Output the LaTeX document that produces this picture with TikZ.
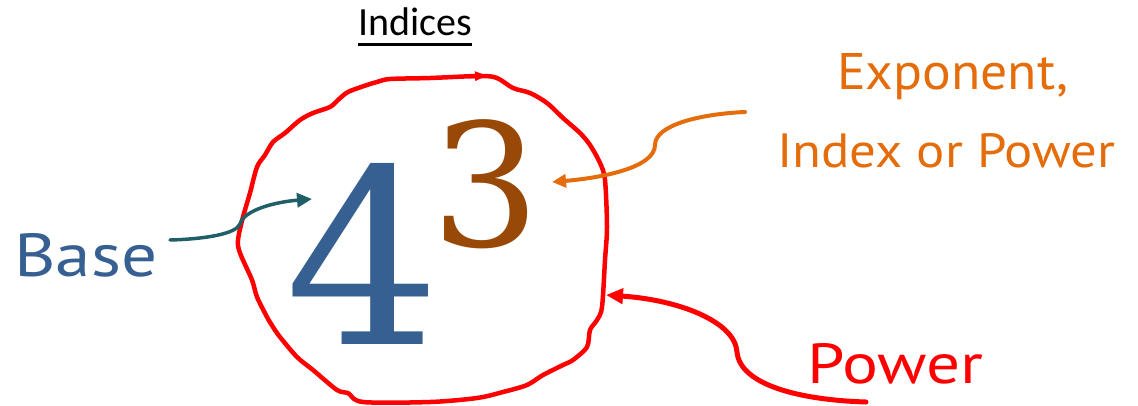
\documentclass[tikz,border=0pt]{standalone}
\usepackage{fontspec}
\usetikzlibrary{arrows.meta}
\newfontfamily\calib{Carlito}
\newfontfamily\hand{PT Sans}
\newfontfamily\digitfont{DejaVu Serif}
\definecolor{numblue}{HTML}{376092}
\definecolor{numbrown}{HTML}{984807}
\definecolor{tealc}{HTML}{215F68}
\definecolor{orng}{HTML}{E46C0A}
\definecolor{redc}{HTML}{FF0000}
\tikzset{
  digit/.style={inner sep=0pt, anchor=base west},
  label/.style={inner sep=0pt, anchor=base west},
  conn/.style={line cap=round, line join=round},
}
\begin{document}
\begin{tikzpicture}[x=1pt,y=-1pt]
\useasboundingbox (0,0) rectangle (1138,405);
% title
\node[label, font=\calib\fontsize{40}{40}\selectfont] (title) at (358,35) {Indices};
\draw[line width=3pt] ([yshift=-9pt]title.base west) -- ([yshift=-9pt]title.base east);
% digits
\node[digit, text=numblue, font=\digitfont\fontsize{244}{244}\selectfont] (four) at (285,344) {4};
\node[digit, text=numbrown, font=\digitfont\fontsize{171}{171}\selectfont] (three) at (431,246) {3};
% hand drawn circle
\draw[redc, line width=4.5pt, conn] plot[smooth cycle, tension=0.5] coordinates {
(497,78) (513,88) (530,93) (547,103) (563,118) (580,133) (590,145) (600,163) (605,180) (607,227) (605,260) (602,307) (597,320) (590,330) (587,347) (573,360) (563,365) (543,375) (527,385) (503,392) (477,398) (430,402) (363,402) (348,393) (337,390) (313,370) (297,357) (280,337) (273,327) (267,317) (257,297) (252,280) (240,253) (238,240) (243,217) (250,193) (257,167) (265,155) (273,142) (285,133) (300,120) (313,113) (330,107) (338,100) (348,92) (367,85) (377,82) (390,79) (430,78) (480,76)};
\coordinate (ctipa) at (470,76.5);
\coordinate (ctipb) at (487,75.5);
\draw[redc, line width=4pt, -{Triangle[width=9pt,length=12pt]}] (ctipa) -- (ctipb);
% labels
\node[label, text=numblue, font=\hand] (base) at (14,276) {\resizebox{143pt}{43pt}{Base}};
\node[label, text=orng, font=\hand] (expo) at (837,89) {\resizebox{231pt}{36pt}{Exponent,}};
\node[label, text=orng, font=\hand] (index) at (777,167) {\resizebox{338pt}{34pt}{Index or Power}};
\node[label, text=redc, font=\hand] (power) at (807,383) {\resizebox{176pt}{40pt}{Power}};
% connector ends
\coordinate (tealstart) at (170,240);
\coordinate (tealtip) at (312,199);
\coordinate (orstart) at (745,112);
\coordinate (ortip) at (552,182);
\coordinate (redstart) at (866,402);
\coordinate (redtip) at (606,295);
% arrows
\draw[tealc, line width=3.5pt, conn, -{Triangle[width=14pt,length=15pt]}]
  (tealstart) .. controls (205,239) and (236,234) .. (240,224)
  .. controls (244,210) and (275,202) .. (tealtip);
\draw[orng, line width=4pt, conn, -{Triangle[width=13pt,length=14pt]}]
  (orstart) .. controls (700,114) and (655,125) .. (655,145)
  .. controls (655,168) and (600,178) .. (ortip);
\draw[redc, line width=5pt, conn, -{Triangle[width=15pt,length=17pt]}]
  (redstart) .. controls (800,400) and (740,385) .. (737,352)
  .. controls (735,322) and (680,300) .. (redtip);
\end{tikzpicture}
\end{document}
